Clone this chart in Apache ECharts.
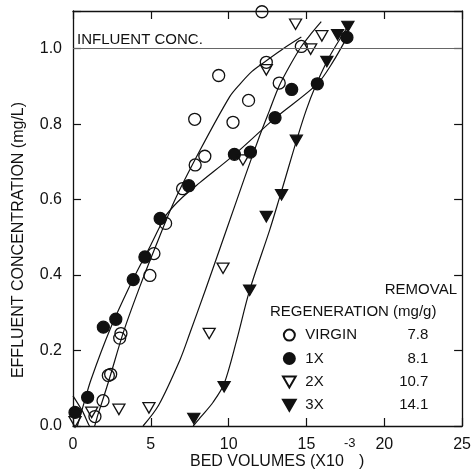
<!DOCTYPE html>
<html>
<head>
<meta charset="utf-8">
<title>Effluent concentration vs bed volumes</title>
<script src="https://cdn.jsdelivr.net/npm/echarts@6/dist/echarts.min.js"></script>
<style>
  html, body { margin: 0; padding: 0; background: #fff; }
  #chart { width: 474px; height: 475px; }
</style>
</head>
<body>
<div id="chart"></div>
<script>
// measured points (bed volumes x10^-3, mg/L)
var virginPts = [[1.41,0.025],[1.93,0.067],[2.27,0.134],[2.42,0.137],[3.0,0.233],[3.08,0.245],[4.94,0.399],[5.2,0.457],[5.95,0.537],[7.04,0.629],[7.85,0.692],[8.47,0.715],[7.82,0.813],[9.36,0.929],[10.28,0.805],[11.28,0.863],[12.14,1.098],[12.42,0.964],[13.25,0.909],[14.67,1.006]];
var oneXPts = [[0.13,0.036],[0.94,0.076],[1.95,0.262],[2.75,0.283],[3.87,0.388],[4.62,0.448],[5.6,0.55],[7.44,0.637],[10.37,0.72],[11.4,0.726],[12.98,0.817],[14.05,0.892],[15.7,0.907],[17.6,1.03]];
var twoXPts = [[0.13,0.011],[1.2,0.036],[2.95,0.044],[4.88,0.048],[8.75,0.245],[9.64,0.418],[10.92,0.705],[12.42,0.944],[14.3,1.065],[15.27,0.999],[15.99,1.034]];
var threeXPts = [[7.76,0.02],[9.71,0.104],[11.35,0.36],[12.42,0.555],[13.4,0.613],[14.35,0.757],[16.31,0.966],[17.0,1.037],[17.66,1.059]];

// fitted curves
var virginFit = [[0,0.08],[0.6,0.04],[1.25,-0.01],[1.6,0.03],[2.3,0.12],[3.25,0.25],[4.3,0.37],[5.3,0.475],[6.5,0.595],[8.15,0.73],[10.07,0.873],[10.7,0.905],[11.5,0.94],[12.42,0.968],[13.5,1.0],[14.67,1.031]];
var oneXFit = [[0.28,0],[0.7,0.06],[1.15,0.122],[2.37,0.255],[3.87,0.39],[5.0,0.48],[5.6,0.53],[6.0,0.56],[7.0,0.605],[8.15,0.645],[10.39,0.72],[12.98,0.816],[15.7,0.907],[16.7,0.965],[17.6,1.03]];
var twoXFit = [[4.5,0],[5.5,0.055],[6.87,0.175],[7.5,0.245],[8.5,0.36],[9.86,0.52],[11.0,0.655],[12.0,0.77],[12.64,0.838],[13.23,0.9],[14.0,0.96],[14.67,1.006],[15.3,1.04],[15.95,1.072]];
var threeXFit = [[7.72,0],[8.3,0.028],[9.0,0.063],[9.71,0.112],[10.5,0.225],[11.35,0.36],[12.64,0.52],[13.32,0.612],[14.99,0.838],[16.31,0.966],[17.66,1.059]];

var regenNames = ['VIRGIN', '1X', '2X', '3X'];
var removal = ['7.8', '8.1', '10.7', '14.1'];
var influentConc = 1.0;

var FONT = '"Liberation Sans", Arial, sans-serif';
var INK = '#111';
var DOWN_TRI = 'path://M0,0L12,0L6,10.4Z';

var myChart = echarts.init(document.getElementById('chart'));

function fitLine(data, extra) {
    var s = {
        type: 'line',
        data: data,
        smooth: 0.3,
        symbol: 'none',
        silent: true,
        lineStyle: { color: INK, width: 1.2 },
        z: 2
    };
    if (extra) { s.markLine = extra; }
    return s;
}

function points(name, data, symbol, filled, size) {
    return {
        type: 'scatter',
        name: name,
        data: data,
        symbol: symbol,
        symbolSize: size,
        itemStyle: {
            color: filled ? INK : 'rgba(255,255,255,0)',
            borderColor: INK,
            borderWidth: 1.3,
            opacity: 1
        },
        z: 3
    };
}

var axisCommon = {
    type: 'value',
    axisLine: { show: true, onZero: false, lineStyle: { color: INK, width: 1.3 } },
    axisTick: { show: true, inside: true, length: 8, lineStyle: { color: INK, width: 1.2 } },
    splitLine: { show: false }
};

var option = {
    animation: false,
    backgroundColor: '#fff',
    grid: { left: 73, right: 11, top: 11, bottom: 49 },
    xAxis: [
        Object.assign({}, axisCommon, {
            min: 0, max: 25, interval: 5, position: 'bottom',
            axisLabel: { margin: 11, fontSize: 16, color: INK, fontFamily: FONT }
        }),
        Object.assign({}, axisCommon, {
            min: 0, max: 25, interval: 5, position: 'top',
            axisLabel: { show: false }
        })
    ],
    yAxis: [
        Object.assign({}, axisCommon, {
            min: 0, max: 1.1, interval: 0.2, position: 'left',
            axisLabel: {
                margin: 11, fontSize: 16, color: INK, fontFamily: FONT,
                formatter: function (v) { return v > 1.05 ? '' : v.toFixed(1); }
            }
        }),
        Object.assign({}, axisCommon, {
            min: 0, max: 1.1, interval: 0.2, position: 'right',
            axisLabel: { show: false }
        })
    ],
    legend: {
        data: [
            { name: 'VIRGIN', icon: 'circle' },
            { name: '1X', icon: 'circle' },
            { name: '2X', icon: DOWN_TRI },
            { name: '3X', icon: DOWN_TRI }
        ],
        orient: 'vertical',
        left: 282,
        top: 327.6,
        padding: 0,
        itemWidth: 22,
        itemHeight: 11,
        itemGap: 8.4,
        selectedMode: false,
        textStyle: {
            color: INK, fontFamily: FONT, fontSize: 15, lineHeight: 12,
            rich: {
                n: { width: 83, fontSize: 15, fontFamily: FONT, color: INK, lineHeight: 12 },
                v: { width: 40, align: 'right', fontSize: 15, fontFamily: FONT, color: INK, lineHeight: 12 }
            }
        },
        formatter: function (name) {
            var i = regenNames.indexOf(name);
            return '{n|' + name + '}{v|' + removal[i] + '}';
        }
    },
    graphic: [
        {
            type: 'text', x: 77, y: 39.5, silent: true,
            style: { text: 'INFLUENT CONC.', font: '15px ' + FONT, fill: INK, align: 'left', verticalAlign: 'middle' }
        },
        {
            type: 'text', x: 18.5, y: 240, rotation: Math.PI / 2, silent: true,
            style: { text: 'EFFLUENT CONCENTRATION (mg/L)', font: '16px ' + FONT, fill: INK, align: 'center', verticalAlign: 'middle' }
        },
        {
            type: 'text', x: 190, y: 462, silent: true,
            style: { text: 'BED VOLUMES (X10', font: '16px ' + FONT, fill: INK, align: 'left', verticalAlign: 'middle' }
        },
        {
            type: 'text', x: 344, y: 443, silent: true,
            style: { text: '-3', font: '13px ' + FONT, fill: INK, align: 'left', verticalAlign: 'middle' }
        },
        {
            type: 'text', x: 359, y: 462, silent: true,
            style: { text: ')', font: '16px ' + FONT, fill: INK, align: 'left', verticalAlign: 'middle' }
        },
        {
            type: 'text', x: 457, y: 290, silent: true,
            style: { text: 'REMOVAL', font: '15px ' + FONT, fill: INK, align: 'right', verticalAlign: 'middle' }
        },
        {
            type: 'text', x: 270, y: 312, silent: true,
            style: { text: 'REGENERATION (mg/g)', font: '15px ' + FONT, fill: INK, align: 'left', verticalAlign: 'middle' }
        }
    ],
    series: [
        fitLine(virginFit, {
            silent: true,
            symbol: ['none', 'none'],
            label: { show: false },
            lineStyle: { color: '#666', width: 1, type: 'solid' },
            data: [{ yAxis: influentConc }]
        }),
        fitLine(oneXFit),
        fitLine(twoXFit),
        fitLine(threeXFit),
        points('VIRGIN', virginPts, 'circle', false, 12),
        points('1X', oneXPts, 'circle', true, 12),
        points('2X', twoXPts, DOWN_TRI, false, [12, 10.4]),
        points('3X', threeXPts, DOWN_TRI, true, [12, 10.4])
    ]
};

myChart.setOption(option);
</script>
</body>
</html>
